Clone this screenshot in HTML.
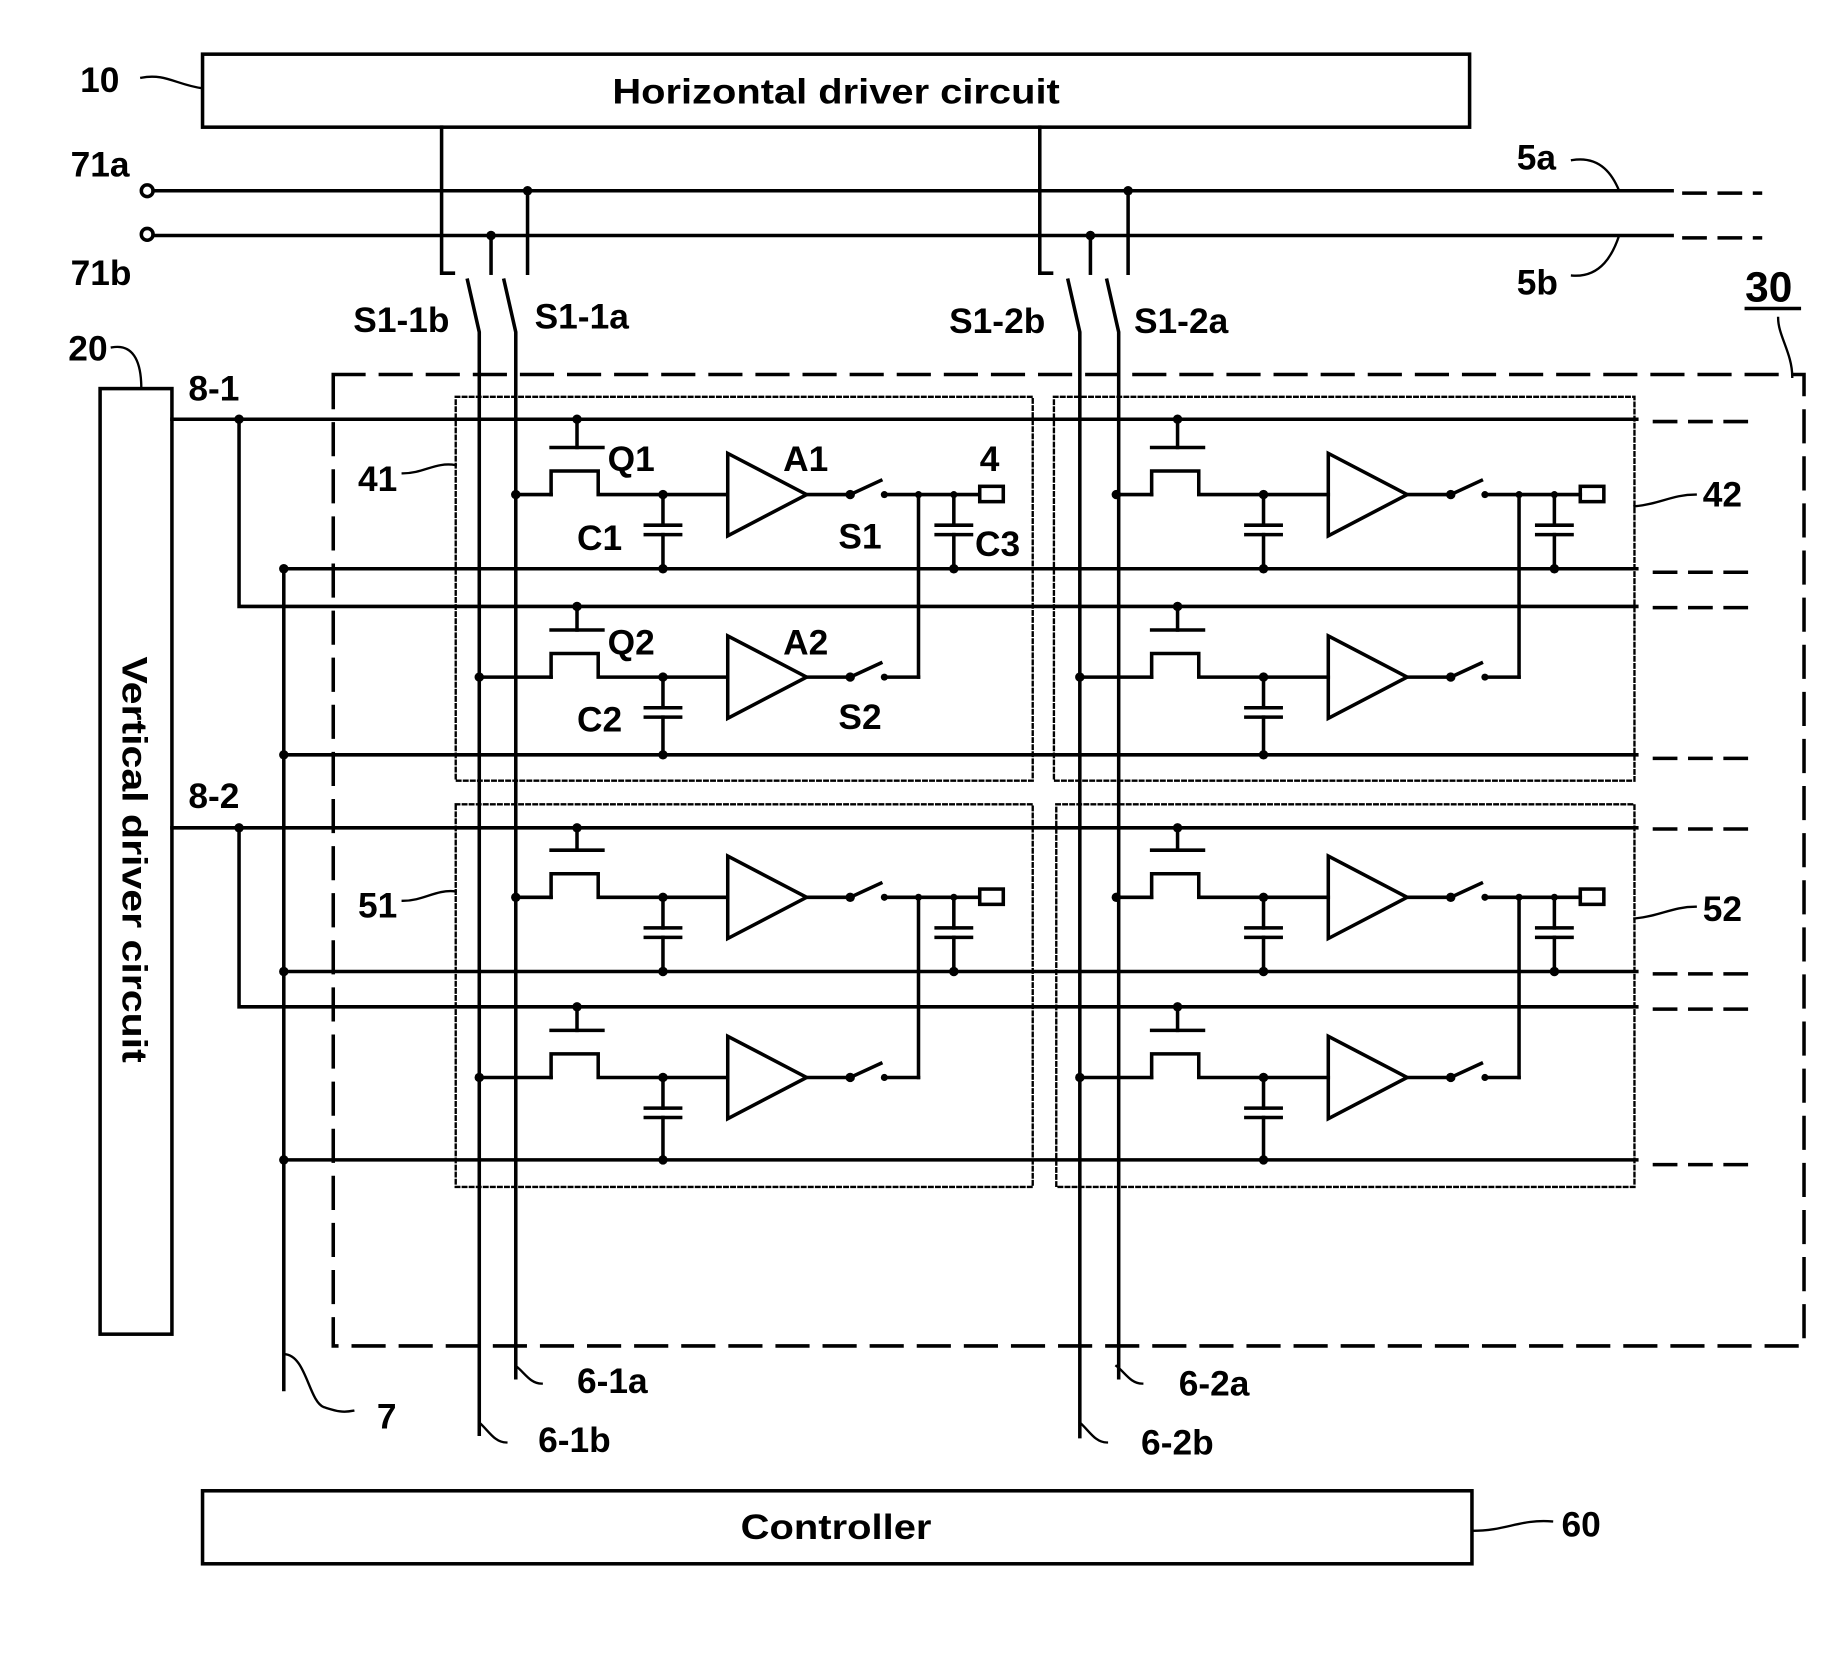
<!DOCTYPE html>
<html><head><meta charset="utf-8"><style>
html,body{margin:0;padding:0;background:#fff;}
svg{display:block;}
text{font-family:"Liberation Sans",sans-serif;font-weight:bold;fill:#000;}
</style></head><body>
<svg id="s" width="1837" height="1656" viewBox="0 0 1560 1406.3" xmlns="http://www.w3.org/2000/svg">
<g id="g" stroke="#000" stroke-width="3" fill="none" stroke-linecap="square">
<!-- top boxes -->
<rect x="172" y="46" width="1076" height="62"/>
<rect x="172" y="1266" width="1078" height="62"/>
<rect x="85" y="330" width="61" height="803"/>
<!-- leaders -->
<path d="M120,66 C140,62 150,72 172,75" stroke-width="2"/>
<path d="M1250,1300 C1280,1300 1290,1290 1318,1292" stroke-width="2"/>
<path d="M95,295 C112,292 120,305 120,330" stroke-width="2"/>
<path d="M1335,136 C1360,132 1370,150 1375,162" stroke-width="2"/>
<path d="M1335,234 C1360,236 1370,215 1375,200" stroke-width="2"/>
<path d="M1510,270 C1510,285 1522,300 1522,320" stroke-width="2"/>
<line x1="1483" y1="262" x2="1528" y2="262"/>
<path d="M342,402 C360,402 370,392 387,395" stroke-width="2"/>
<path d="M342,765 C360,765 370,755 387,757" stroke-width="2"/>
<path d="M1388,430 C1410,428 1420,420 1440,420" stroke-width="2"/>
<path d="M1388,780 C1410,778 1420,770 1440,770" stroke-width="2"/>
<path d="M438,1160 C445,1165 450,1175 460,1175" stroke-width="2"/>
<path d="M407,1208 C415,1215 420,1225 430,1225" stroke-width="2"/>
<path d="M948,1160 C955,1165 960,1175 970,1175" stroke-width="2"/>
<path d="M917,1208 C925,1215 930,1225 940,1225" stroke-width="2"/>
<path d="M241,1150 C260,1150 262,1190 275,1195 C285,1198 290,1200 300,1198" stroke-width="2"/>
<!-- 5a 5b -->
<circle cx="125" cy="162" r="5" fill="#fff"/>
<circle cx="125" cy="199" r="5" fill="#fff"/>
<line x1="130" y1="162" x2="1420" y2="162"/>
<line x1="130" y1="200" x2="1420" y2="200"/>
<line x1="1430" y1="164" x2="1495" y2="164" stroke-dasharray="18,12"/>
<line x1="1430" y1="202" x2="1495" y2="202" stroke-dasharray="18,12"/>
<!-- switch column stuff -->
<path d="M375,108 V232 H385"/>
<path d="M883,108 V232 H893"/>
<line x1="448" y1="162" x2="448" y2="232"/>
<line x1="417" y1="200" x2="417" y2="232"/>
<line x1="958" y1="162" x2="958" y2="232"/>
<line x1="926" y1="200" x2="926" y2="232"/>
<path d="M397,238 L407,282 V1218"/>
<path d="M428,238 L438,282 V1170"/>
<path d="M907,238 L917,282 V1220"/>
<path d="M940,238 L950,282 V1170"/>
<!-- big dashed box -->
<rect x="283" y="318" width="1249" height="825" stroke-dasharray="26,14"/>
<!-- dotted boxes -->
<g stroke-width="2" stroke-dasharray="3,3">
<rect x="387" y="337" width="490" height="326"/>
<rect x="895" y="337" width="493" height="326"/>
<rect x="387" y="683" width="490" height="325"/>
<rect x="897" y="683" width="491" height="325"/>
</g>
<!-- 8-1 / 8-2 / 7 -->
<path d="M146,356 H1390"/>
<path d="M203,356 V515 H1390"/>
<path d="M146,703 H1390"/>
<path d="M203,703 V855 H1390"/>
<line x1="241" y1="483" x2="241" y2="1180"/>
<path d="M241,483 H1390"/><path d="M241,641 H1390"/><path d="M241,825 H1390"/><path d="M241,985 H1390"/>
<g stroke-dasharray="18,12">
<line x1="1405" y1="358" x2="1495" y2="358"/><line x1="1405" y1="486" x2="1495" y2="486"/>
<line x1="1405" y1="516" x2="1495" y2="516"/><line x1="1405" y1="644" x2="1495" y2="644"/>
<line x1="1405" y1="704" x2="1495" y2="704"/><line x1="1405" y1="827" x2="1495" y2="827"/>
<line x1="1405" y1="857" x2="1495" y2="857"/><line x1="1405" y1="989" x2="1495" y2="989"/>
</g>
</g>
<g id="dots" fill="#000"></g>
<g font-size="30">
<text x="710" y="88" text-anchor="middle" textLength="380" lengthAdjust="spacingAndGlyphs">Horizontal driver circuit</text>
<text x="710" y="1307" text-anchor="middle" textLength="162" lengthAdjust="spacingAndGlyphs">Controller</text>
<text transform="translate(104,730) rotate(90)" text-anchor="middle" textLength="345" lengthAdjust="spacingAndGlyphs">Vertical driver circuit</text>
<text x="68" y="78">10</text>
<text x="60" y="150">71a</text>
<text x="60" y="242">71b</text>
<text x="58" y="306">20</text>
<text x="160" y="340">8-1</text>
<text x="160" y="686">8-2</text>
<text x="1288" y="144">5a</text>
<text x="1288" y="250">5b</text>
<text x="1482" y="256" font-size="36">30</text>
<text x="300" y="282">S1-1b</text>
<text x="454" y="279">S1-1a</text>
<text x="806" y="283">S1-2b</text>
<text x="963" y="283">S1-2a</text>
<text x="304" y="417">41</text>
<text x="304" y="779">51</text>
<text x="1446" y="430">42</text>
<text x="1446" y="782">52</text>
<text x="516" y="400">Q1</text>
<text x="516" y="556">Q2</text>
<text x="665" y="400">A1</text>
<text x="665" y="556">A2</text>
<text x="490" y="467">C1</text>
<text x="490" y="621">C2</text>
<text x="712" y="466">S1</text>
<text x="712" y="619">S2</text>
<text x="832" y="400">4</text>
<text x="828" y="472">C3</text>
<text x="490" y="1183">6-1a</text>
<text x="457" y="1233">6-1b</text>
<text x="1001" y="1185">6-2a</text>
<text x="969" y="1235">6-2b</text>
<text x="320" y="1213">7</text>
<text x="1326" y="1305">60</text>
</g>
</svg>
<script>
(function(){
var g=document.getElementById('g'),d=document.getElementById('dots'),N='http://www.w3.org/2000/svg';
function el(p,t,a){var e=document.createElementNS(N,t);for(var k in a)e.setAttribute(k,a[k]);p.appendChild(e);return e;}
function L(x1,y1,x2,y2){el(g,'line',{x1:x1,y1:y1,x2:x2,y2:y2});}
function P(s){el(g,'path',{d:s});}
function D(x,y,r){el(d,'circle',{cx:x,cy:y,r:r||4});}
var rows=[{g:356,s:420,b:483,src:438,a:1},{g:515,s:575,b:641,src:407,a:0},{g:703,s:762,b:825,src:438,a:1},{g:855,s:915,b:985,src:407,a:0}];
[0,510].forEach(function(dx){
 rows.forEach(function(r,i){
  var s=r.s,x=function(v){return v+dx;};
  D(x(490),r.g);L(x(490),r.g,x(490),s-40);L(x(468),s-40,x(512),s-40);
  D(x(r.src),s);L(x(r.src),s,x(468),s);
  P('M'+x(468)+','+s+' V'+(s-20)+' H'+x(508)+' V'+s+' H'+x(618));
  D(x(563),s);L(x(563),s,x(563),s+26);L(x(548),s+26,x(578),s+26);L(x(548),s+34,x(578),s+34);L(x(563),s+34,x(563),r.b);D(x(563),r.b);
  el(g,'polygon',{points:x(618)+','+(s-35)+' '+x(618)+','+(s+35)+' '+x(685)+','+s});
  L(x(685),s,x(722),s);D(x(722),s);L(x(722),s,x(748),s-12);D(x(751),s,3);L(x(751),s,x(780),s);
  if(r.a){
   var nb=rows[i+1];
   L(x(780),s,x(780),nb.s);D(x(780),s,3);
   L(x(780),s,x(832),s);el(g,'rect',{x:x(832),y:s-7,width:20,height:13});
   D(x(810),s,3);L(x(810),s,x(810),s+26);L(x(795),s+26,x(825),s+26);L(x(795),s+34,x(825),s+34);L(x(810),s+34,x(810),r.b);D(x(810),r.b);
  }
 });
});
[[203,356],[203,703],[448,162],[417,200],[958,162],[926,200],[241,483],[241,641],[241,825],[241,985]].forEach(function(p){D(p[0],p[1]);});
})();
</script>
</body></html>
